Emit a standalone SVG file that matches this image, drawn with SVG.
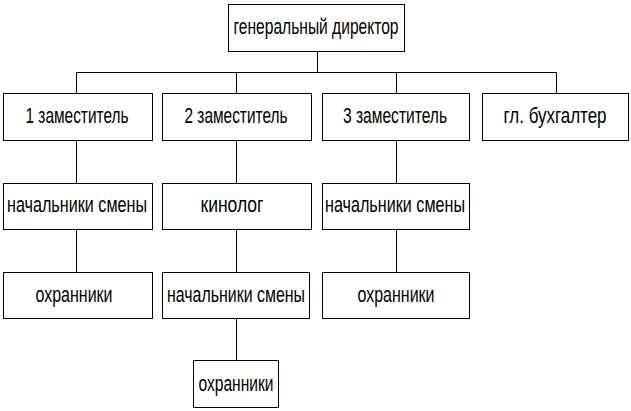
<svg xmlns="http://www.w3.org/2000/svg" width="631" height="411" viewBox="0 0 631 411">
<style>
rect{fill:#fff;stroke:#000;stroke-width:1}
path{fill:none;stroke:#000;stroke-width:1}
text{font-family:"Liberation Sans",Arial,sans-serif;font-size:21.5px;fill:#000;text-anchor:middle}
</style>
<rect x="0" y="0" width="631" height="411" style="stroke:none"/>
<g id="connectors">
<path d="M317.5 51.5V72.5M76.5 72.5H556.5M76.5 72.5V93.5M236.5 72.5V93.5M396.5 72.5V93.5M556.5 72.5V93.5"/>
<path d="M76.5 140.5V183.5M76.5 229.5V272.5"/>
<path d="M236.5 140.5V183.5M236.5 229.5V272.5M236.5 318.5V360.5"/>
<path d="M396.5 140.5V183.5M396.5 229.5V272.5"/>
</g>
<g id="director"><rect x="228.5" y="4.5" width="176" height="47"/><text x="316" y="34" textLength="165" lengthAdjust="spacingAndGlyphs">генеральный директор</text></g>
<g id="dep1"><rect x="3.5" y="93.5" width="149" height="47"/><text x="77" y="123" textLength="103" lengthAdjust="spacingAndGlyphs">1 заместитель</text></g>
<g id="dep2"><rect x="162.5" y="93.5" width="149" height="47"/><text x="236" y="123" textLength="103" lengthAdjust="spacingAndGlyphs">2 заместитель</text></g>
<g id="dep3"><rect x="322.5" y="93.5" width="147" height="47"/><text x="395" y="123" textLength="104" lengthAdjust="spacingAndGlyphs">3 заместитель</text></g>
<g id="accountant"><rect x="482.5" y="93.5" width="146" height="47"/><text x="555" y="123" textLength="103" lengthAdjust="spacingAndGlyphs">гл. бухгалтер</text></g>
<g id="shift1"><rect x="3.5" y="183.5" width="149" height="46"/><text x="77" y="212" textLength="140" lengthAdjust="spacingAndGlyphs">начальники смены</text></g>
<g id="dog"><rect x="162.5" y="183.5" width="149" height="46"/><text x="232" y="212" textLength="63" lengthAdjust="spacingAndGlyphs">кинолог</text></g>
<g id="shift3"><rect x="322.5" y="183.5" width="147" height="46"/><text x="395" y="212" textLength="140" lengthAdjust="spacingAndGlyphs">начальники смены</text></g>
<g id="guards1"><rect x="3.5" y="272.5" width="149" height="46"/><text x="74" y="302" textLength="77" lengthAdjust="spacingAndGlyphs">охранники</text></g>
<g id="shift2"><rect x="162.5" y="272.5" width="147" height="46"/><text x="236" y="302" textLength="138" lengthAdjust="spacingAndGlyphs">начальники смены</text></g>
<g id="guards3"><rect x="322.5" y="272.5" width="147" height="46"/><text x="396" y="302" textLength="77" lengthAdjust="spacingAndGlyphs">охранники</text></g>
<g id="guards2"><rect x="193.5" y="360.5" width="85" height="47"/><text x="236" y="391" textLength="75" lengthAdjust="spacingAndGlyphs">охранники</text></g>
</svg>
